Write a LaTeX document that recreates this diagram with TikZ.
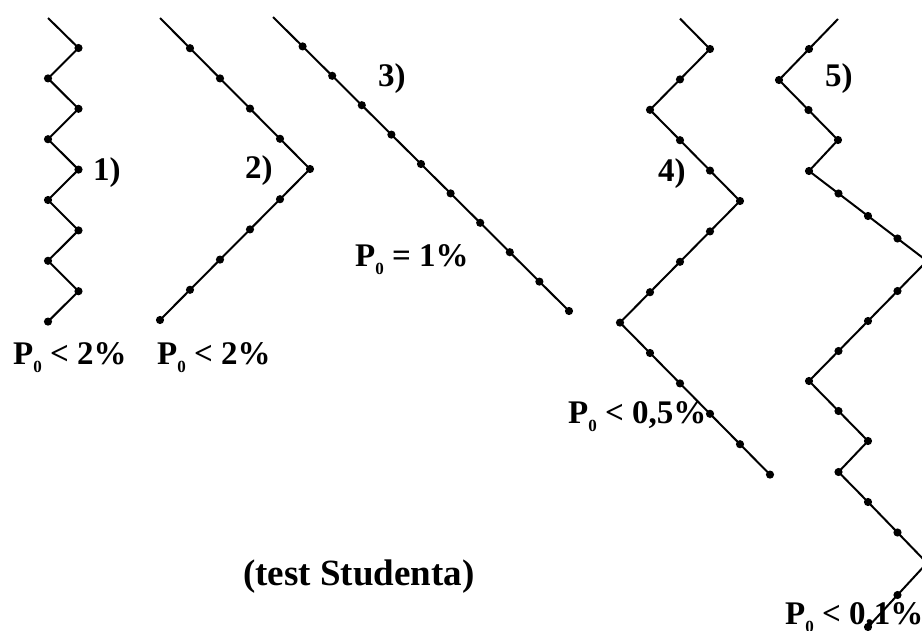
\documentclass[tikz,border=0pt]{standalone}
\usepackage{fontspec}
\setmainfont{Liberation Serif}
\usepackage{tikz}
\newcommand{\Pzero}{P\raisebox{-8pt}{\fontsize{17}{17}\selectfont 0}}

\begin{document}
\begin{tikzpicture}[
  x=1pt, y=-1pt,
  trace/.style={line width=2pt, mark=*, mark size=3pt},
  lbl/.style={anchor=base west, inner sep=0pt, font=\fontsize{33}{38}\bfseries\selectfont},
  ttl/.style={lbl, font=\fontsize{37}{42}\bfseries\selectfont}
]
\clip (0,0) rectangle (922,630);

\draw[trace, mark indices={2,...,11}] plot coordinates {(48,18) (78.5,48) (48,78.4) (78.5,108.8) (48,139.2) (78.5,169.6) (48,200) (78.5,230.4) (48,260.8) (78.5,291.2) (48,321.6)};
\draw[trace, mark indices={2,...,11}] plot coordinates {(160,18) (190,48.2) (220,78.4) (250,108.6) (280,138.8) (310,169) (280,199.2) (250,229.4) (220,259.6) (190,289.8) (160,320)};
\draw[trace, mark indices={2,...,11}] plot coordinates {(273,17) (302.6,46.4) (332.2,75.8) (361.8,105.2) (391.4,134.6) (421,164) (450.6,193.4) (480.2,222.8) (509.8,252.2) (539.4,281.6) (569,311)};
\draw[trace, mark indices={2,...,16}] plot coordinates {(680,18.6) (710,49) (680,79.4) (650,109.8) (680,140.2) (710,170.6) (740,201) (710,231.4) (680,261.8) (650,292.2) (620,322.6) (650,353) (680,383.4) (710,413.8) (740,444.2) (770,474.6)};
\draw[trace, mark indices={2,...,22}] plot coordinates {(838,19) (809,49) (779,80) (808.5,110) (838,140) (809,171) (838.5,193.5) (868,216) (897.5,238.5) (927,261) (897.5,291) (868,321) (838.5,351) (809,381) (838.5,411) (868,441) (838.5,472) (868,502) (897.5,532.5) (927,563) (897.5,595) (868,627)};

\node[lbl] (n1) at (93,180) {1)};
\node[lbl] (n2) at (245,178) {2)};
\node[lbl] (n3) at (378,86) {3)};
\node[lbl] (n4) at (658,181) {4)};
\node[lbl] (n5) at (825,86) {5)};

\node[lbl] (pa) at (13,364) {\Pzero{} < 2\%};
\node[lbl] (pb) at (157,364) {\Pzero{} < 2\%};
\node[lbl] (pc) at (355,266) {\Pzero{} = 1\%};
\node[lbl] (pd) at (568,423) {\Pzero{} < 0,5\%};
\node[lbl] (pe) at (785,624) {\Pzero{} < 0,1\%};

\node[ttl] (title) at (243,585) {(test Studenta)};
\end{tikzpicture}
\end{document}
